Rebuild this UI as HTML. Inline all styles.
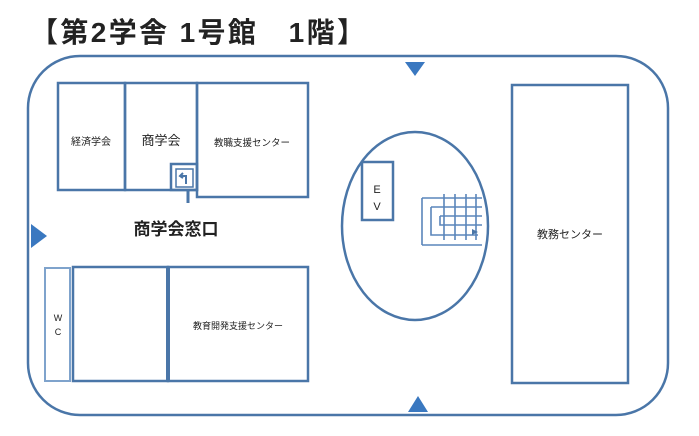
<!DOCTYPE html><html><head><meta charset="utf-8"><style>
body{margin:0;background:#fff;width:699px;height:431px;overflow:hidden}
svg text{font-family:"Liberation Sans","Noto Sans CJK JP",sans-serif;fill:#222}
</style></head><body>
<svg width="699" height="431" viewBox="0 0 699 431">
<text x="30" y="42" font-size="28" font-weight="bold" fill="#111" textLength="335" lengthAdjust="spacing">【第2学舎 1号館　1階】</text>
<g fill="none" stroke="#4a76a8" stroke-width="2.5">
<rect x="28" y="56" width="640" height="359" rx="52"/>
<rect x="58" y="83" width="67" height="107"/>
<rect x="125" y="83" width="72" height="107"/>
<rect x="197" y="83" width="111" height="114"/>
<rect x="171" y="164" width="26" height="26"/>
<rect x="176" y="169" width="17" height="18" stroke-width="1.5"/>
<line x1="188" y1="190" x2="188" y2="203" stroke-width="3"/>
<ellipse cx="415" cy="226" rx="73" ry="94"/>
<rect x="362" y="162" width="31" height="58"/>
<rect x="512" y="85" width="116" height="298"/>
<rect x="73" y="267" width="95" height="114"/>
<rect x="168" y="267" width="140" height="114"/>
<line x1="168" y1="267" x2="168" y2="381" stroke-width="4"/>
<rect x="45" y="268" width="25" height="113" stroke="#7fa3cc" stroke-width="2"/>
</g>
<g stroke="#5a85bb" stroke-width="1.6" fill="none">
<path d="M422 198H482M431 207H482M440 216H482M422 245H482M422 198V245M431 207V235H478M440 216V225H482M444 194V240M455 194V240M466 194V240M476 194V240"/>
</g>
<path d="M478 232l-6-3v6z" fill="#4a76a8"/>
<path d="M183 178l-3 -2 3-3" fill="none" stroke="#4a76a8" stroke-width="2"/>
<path d="M180 176h6v8" fill="none" stroke="#4a76a8" stroke-width="2"/>
<g fill="#3a78c0">
<path d="M31 224L47 236L31 248Z"/>
<path d="M405 62H425L415 76Z"/>
<path d="M408 412H428L418 396Z"/>
</g>
<text x="91" y="145" font-size="10" text-anchor="middle">経済学会</text>
<text x="161" y="145" font-size="13" text-anchor="middle">商学会</text>
<text x="252" y="146" font-size="9.5" text-anchor="middle">教職支援センター</text>
<text x="176" y="235" font-size="17" font-weight="bold" text-anchor="middle" fill="#111">商学会窓口</text>
<text x="377" y="193" font-size="11" text-anchor="middle">E</text>
<text x="377" y="210" font-size="11" text-anchor="middle">V</text>
<text x="570" y="238" font-size="11" text-anchor="middle">教務センター</text>
<text x="238" y="329" font-size="9" text-anchor="middle">教育開発支援センター</text>
<text x="58" y="321" font-size="9" text-anchor="middle">W</text>
<text x="58" y="335" font-size="9" text-anchor="middle">C</text>
</svg>
</body></html>
